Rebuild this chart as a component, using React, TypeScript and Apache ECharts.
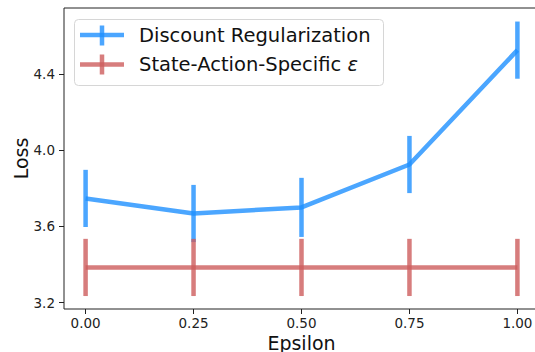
import React, { useEffect, useRef } from "react";
import * as echarts from "echarts";

const epsilons = [0.0, 0.25, 0.5, 0.75, 1.0];
const discountMean = [3.747, 3.668, 3.70, 3.925, 4.525];
const discountErr = [0.15, 0.15, 0.155, 0.15, 0.15];
const specificMean = [3.385, 3.385, 3.385, 3.385, 3.385];
const specificErr = [0.15, 0.15, 0.15, 0.15, 0.15];
const xTicks = [0, 0.25, 0.5, 0.75, 1.0];
const yTicks = [3.2, 3.6, 4.0, 4.4];
const seriesNames = ["Discount Regularization", "State-Action-Specific ε"];

const BLUE = "rgba(30,144,255,0.8)";
const RED = "rgba(205,92,92,0.8)";
const FONT = "DejaVu Sans";

function errSeries(name: string, mean: number[], err: number[], color: string) {
  return {
    name,
    type: "custom",
    silent: true,
    clip: false,
    data: epsilons.map((x, i) => [x, mean[i] - err[i], mean[i] + err[i]]),
    renderItem: (params: any, api: any) => {
      const p1 = api.coord([api.value(0), api.value(1)]);
      const p2 = api.coord([api.value(0), api.value(2)]);
      return {
        type: "line",
        shape: { x1: p1[0], y1: p1[1], x2: p2[0], y2: p2[1] },
        style: { stroke: color, lineWidth: 4.5 },
      };
    },
    z: 2,
  };
}

export default function App() {
  const ref = useRef<HTMLDivElement>(null);
  useEffect(() => {
    if (!ref.current) return;
    const chart = echarts.init(ref.current, undefined, { renderer: "svg" });
    chart.setOption({
      animation: false,
      backgroundColor: "#ffffff",
      grid: {
        left: 64,
        right: -4,
        top: 8,
        bottom: 43,
        containLabel: false,
        outerBoundsMode: "none",
        show: true,
        borderColor: "#222",
        borderWidth: 1,
        backgroundColor: "transparent",
      },
      xAxis: {
        type: "value",
        min: -0.05,
        max: 1.05,
        name: "Epsilon",
        nameLocation: "middle",
        nameGap: 24,
        nameMoveOverlap: false,
        nameTextStyle: { fontFamily: FONT, fontSize: 19, lineHeight: 19, color: "#111" },
        axisLine: { show: false, onZero: false },
        splitLine: { show: false },
        axisTick: {
          show: true,
          length: 5,
          customValues: xTicks,
          lineStyle: { color: "#222", width: 1 },
        },
        axisLabel: {
          customValues: xTicks,
          formatter: (v: number) => v.toFixed(2),
          fontFamily: FONT,
          fontSize: 13.5,
          lineHeight: 14,
          color: "#222",
          margin: 7,
        },
      },
      yAxis: {
        type: "value",
        min: 3.167,
        max: 4.746,
        name: "Loss",
        nameLocation: "middle",
        nameGap: 34,
        nameMoveOverlap: false,
        nameTextStyle: { fontFamily: FONT, fontSize: 19, lineHeight: 19, color: "#111" },
        axisLine: { show: false, onZero: false },
        splitLine: { show: false },
        axisTick: {
          show: true,
          length: 5,
          customValues: yTicks,
          lineStyle: { color: "#222", width: 1 },
        },
        axisLabel: {
          customValues: yTicks,
          formatter: (v: number) => v.toFixed(1),
          fontFamily: FONT,
          fontSize: 13.5,
          color: "#222",
          margin: 9,
        },
      },
      series: [
        errSeries(seriesNames[0], discountMean, discountErr, BLUE),
        {
          name: seriesNames[0],
          type: "line",
          data: epsilons.map((x, i) => [x, discountMean[i]]),
          showSymbol: false,
          symbol: "none",
          lineStyle: { color: BLUE, width: 4.5 },
          itemStyle: { color: BLUE },
          silent: true,
          z: 3,
        },
        errSeries(seriesNames[1], specificMean, specificErr, RED),
        {
          name: seriesNames[1],
          type: "line",
          data: epsilons.map((x, i) => [x, specificMean[i]]),
          showSymbol: false,
          symbol: "none",
          lineStyle: { color: RED, width: 4.5 },
          itemStyle: { color: RED },
          silent: true,
          z: 3,
        },
      ],
      graphic: [
        {
          type: "rect",
          left: 74,
          top: 19,
          shape: { width: 309, height: 66, r: 4 },
          style: { fill: "rgba(255,255,255,0.8)", stroke: "#d6d6d6", lineWidth: 1 },
          z: 10,
        },
        {
          type: "line",
          shape: { x1: 80, y1: 35, x2: 124, y2: 35 },
          style: { stroke: BLUE, lineWidth: 4.5 },
          z: 11,
        },
        {
          type: "line",
          shape: { x1: 102, y1: 25.5, x2: 102, y2: 45.5 },
          style: { stroke: BLUE, lineWidth: 4.5 },
          z: 11,
        },
        {
          type: "line",
          shape: { x1: 80, y1: 64.5, x2: 124, y2: 64.5 },
          style: { stroke: RED, lineWidth: 4.5 },
          z: 11,
        },
        {
          type: "line",
          shape: { x1: 102, y1: 54.5, x2: 102, y2: 74.5 },
          style: { stroke: RED, lineWidth: 4.5 },
          z: 11,
        },
        {
          type: "text",
          x: 139,
          y: 35,
          style: {
            text: seriesNames[0],
            fontFamily: FONT,
            fontSize: 19.5,
            fill: "#111",
            verticalAlign: "middle",
            align: "left",
          },
          z: 11,
        },
        {
          type: "text",
          x: 139,
          y: 64.5,
          style: {
            text: "State-Action-Specific {e|ε}",
            fontFamily: FONT,
            fontSize: 19.5,
            fill: "#111",
            verticalAlign: "middle",
            align: "left",
            rich: {
              e: { fontFamily: FONT, fontSize: 19.5, fontStyle: "italic", fill: "#111" },
            },
          },
          z: 11,
        },
      ],
    });
    return () => chart.dispose();
  }, []);
  return (
    <div
      ref={ref}
      style={{ position: "fixed", left: 0, top: 0, width: 535, height: 352 }}
    />
  );
}
